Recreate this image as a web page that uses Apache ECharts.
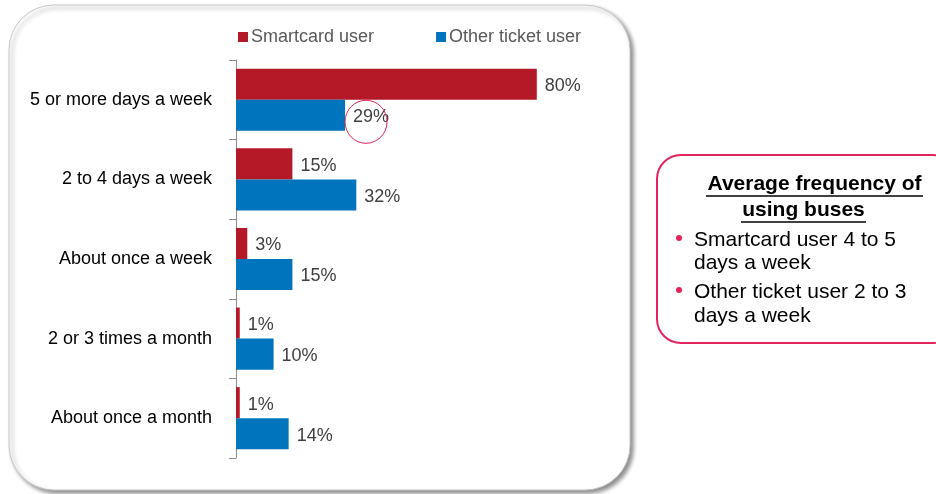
<!DOCTYPE html>
<html><head><meta charset="utf-8">
<script src="https://cdn.jsdelivr.net/npm/echarts@6/dist/echarts.min.js"></script>
<style>html,body{margin:0;padding:0;background:#fff}#c{width:936px;height:494px}</style>
</head><body><div id="c"></div>
<script>
const categories = ['5 or more days a week','2 to 4 days a week','About once a week','2 or 3 times a month','About once a month'];
const smartcard = [80, 15, 3, 1, 1];
const otherTicket = [29, 32, 15, 10, 14];
const seriesNames = ['Smartcard user','Other ticket user'];
const boxTitle = ['Average frequency of','using buses'];
const boxBullets = [['Smartcard user 4 to 5','days a week'],['Other ticket user 2 to 3','days a week']];

const FONT = 'Liberation Sans, Arial, sans-serif';
const chart = echarts.init(document.getElementById('c'));
const lbl = {show:true, position:'right', distance:8, offset:[0,2], formatter:'{c}%', color:'#404040', fontSize:18, fontFamily:FONT};

const graphics = [
  {type:'rect', z:-10, shape:{x:9,y:5,width:621,height:485,r:45},
   style:{fill:'#fff', stroke:'#c8c8c8', lineWidth:1, shadowBlur:4, shadowOffsetX:3, shadowOffsetY:3, shadowColor:'rgba(0,0,0,0.45)'}},
  {type:'rect', z:-10, shape:{x:657,y:155,width:300,height:188,r:24},
   style:{fill:'#fff', stroke:'#e2245e', lineWidth:2}},
  {type:'text', style:{x:814.5,y:184,text:boxTitle[0],font:'bold 21px '+FONT,fill:'#000',align:'center',verticalAlign:'middle'}},
  {type:'text', style:{x:803.5,y:210,text:boxTitle[1],font:'bold 21px '+FONT,fill:'#000',align:'center',verticalAlign:'middle'}},
  {type:'line', shape:{x1:706,y1:196,x2:923,y2:196}, style:{stroke:'#000',lineWidth:1.5}},
  {type:'line', shape:{x1:741,y1:222,x2:866,y2:222}, style:{stroke:'#000',lineWidth:1.5}},
];
const bulletY = [[240,263],[292,316]];
boxBullets.forEach((b,i)=>{
  graphics.push({type:'circle', shape:{cx:679,cy:bulletY[i][0]-2,r:3}, style:{fill:'#e2245e'}});
  b.forEach((t,j)=>graphics.push({type:'text', style:{x:694,y:bulletY[i][j],text:t,font:'21px '+FONT,fill:'#000',verticalAlign:'middle'}}));
});

chart.setOption({
  animation:false,
  legend:{top:23,left:233,itemWidth:10,itemHeight:10,icon:'rect',itemGap:62,
    textStyle:{fontSize:18,color:'#595959',fontFamily:FONT,padding:[0,0,0,-2]}},
  grid:{left:236,top:60,width:376,height:398,containLabel:false},
  xAxis:{type:'value',min:0,max:100,show:false},
  yAxis:{type:'category',data:categories,inverse:true,
    axisLine:{show:true,lineStyle:{color:'#8c8c8c'}},
    axisTick:{show:true,alignWithLabel:false,length:7,lineStyle:{color:'#8c8c8c'}},
    axisLabel:{color:'#000',fontSize:18,fontFamily:FONT,margin:24}},
  series:[
    {name:seriesNames[0],type:'bar',data:smartcard,barCategoryGap:'22%',barGap:'0%',
     itemStyle:{color:'#b41928'},label:lbl},
    {name:seriesNames[1],type:'bar',data:otherTicket,barCategoryGap:'22%',barGap:'0%',
     itemStyle:{color:'#0075bd'},label:lbl}
  ],
  graphic:graphics
});
// annotation ellipse around the first "Other ticket user" label
const p = chart.convertToPixel({seriesIndex:1},[otherTicket[0],0]);
const barRow = chart.convertToPixel({yAxisIndex:0},0);
graphics.push({type:'ellipse', z:100, shape:{cx:p[0]+21,cy:barRow+22,rx:21,ry:21.5},
  style:{fill:'none',stroke:'#e2245e',lineWidth:1}});
chart.setOption({graphic:graphics});
</script></body></html>
